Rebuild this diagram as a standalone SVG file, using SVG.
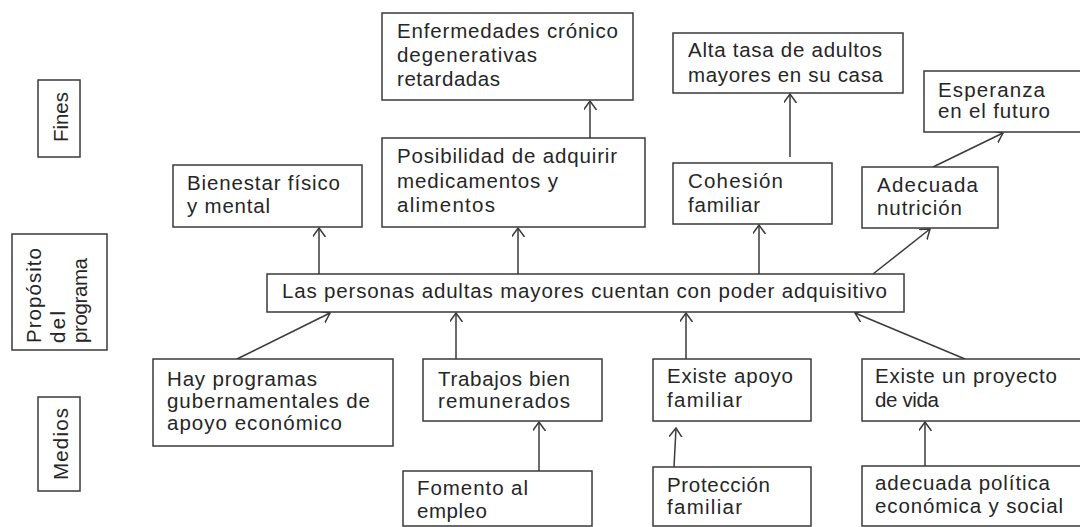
<svg xmlns="http://www.w3.org/2000/svg" width="1080" height="527" viewBox="0 0 1080 527">
<style>
.box{fill:#fff;stroke:#3a3a3a;stroke-width:1.5}
.t{font-family:"Liberation Sans",Arial,sans-serif;font-size:20.5px;fill:#262626}
.c{stroke:#3a3a3a;stroke-width:1.5;fill:none;marker-end:url(#ah)}
</style>
<defs>
<marker id="ah" markerUnits="userSpaceOnUse" markerWidth="12" markerHeight="14" refX="9" refY="6.5" orient="auto">
<path d="M0,0 L9,6.5 L0,13" fill="none" stroke="#3a3a3a" stroke-width="1.5"/>
</marker>
</defs>
<rect width="1080" height="527" fill="#fff"/>

<g id="lbl-fines">
<rect class="box" x="38" y="80" width="42" height="77"/>
<text class="t" transform="translate(68,142) rotate(-90)" textLength="50" lengthAdjust="spacing">Fines</text>
</g>
<g id="lbl-proposito">
<rect class="box" x="12" y="234" width="95" height="116"/>
<text class="t" transform="translate(41,343) rotate(-90)" textLength="95" lengthAdjust="spacing">Propósito</text>
<text class="t" transform="translate(65,343) rotate(-90)" textLength="32" lengthAdjust="spacing">del</text>
<text class="t" transform="translate(87,343) rotate(-90)" textLength="85" lengthAdjust="spacing">programa</text>
</g>
<g id="lbl-medios">
<rect class="box" x="38" y="397" width="42" height="94"/>
<text class="t" transform="translate(68,480) rotate(-90)" textLength="72" lengthAdjust="spacing">Medios</text>
</g>

<g id="connectors">
<line class="c" x1="319" y1="274" x2="319" y2="228"/>
<line class="c" x1="518" y1="274" x2="518" y2="228"/>
<line class="c" x1="759" y1="274" x2="759" y2="225"/>
<line class="c" x1="873" y1="274" x2="930" y2="229"/>
<line class="c" x1="590" y1="138" x2="590" y2="101"/>
<line class="c" x1="790" y1="157" x2="790" y2="94"/>
<line class="c" x1="933" y1="167" x2="1003" y2="133"/>
<line class="c" x1="237" y1="359" x2="330" y2="313"/>
<line class="c" x1="456" y1="359" x2="456" y2="313"/>
<line class="c" x1="686" y1="359" x2="686" y2="313"/>
<line class="c" x1="965" y1="359" x2="855" y2="313"/>
<line class="c" x1="539" y1="471" x2="539" y2="422"/>
<line class="c" x1="674" y1="467" x2="676" y2="428"/>
<line class="c" x1="925" y1="466" x2="925" y2="422"/>
</g>

<g id="n-enfermedades">
<rect class="box" x="382" y="13" width="251" height="87"/>
<text class="t" x="397" y="38" textLength="221" lengthAdjust="spacing">Enfermedades crónico</text>
<text class="t" x="397" y="62" textLength="140" lengthAdjust="spacing">degenerativas</text>
<text class="t" x="397" y="86" textLength="103" lengthAdjust="spacing">retardadas</text>
</g>
<g id="n-posibilidad">
<rect class="box" x="382" y="138" width="263" height="89"/>
<text class="t" x="397" y="163" textLength="220" lengthAdjust="spacing">Posibilidad de adquirir</text>
<text class="t" x="397" y="188" textLength="161" lengthAdjust="spacing">medicamentos y</text>
<text class="t" x="397" y="212" textLength="98" lengthAdjust="spacing">alimentos</text>
</g>
<g id="n-altatasa">
<rect class="box" x="673" y="33" width="230" height="60"/>
<text class="t" x="688" y="57" textLength="194" lengthAdjust="spacing">Alta tasa de adultos</text>
<text class="t" x="688" y="82" textLength="195" lengthAdjust="spacing">mayores en su casa</text>
</g>
<g id="n-esperanza">
<rect class="box" x="924" y="71" width="170" height="61"/>
<text class="t" x="938" y="97" textLength="107" lengthAdjust="spacing">Esperanza</text>
<text class="t" x="938" y="118" textLength="112" lengthAdjust="spacing">en el futuro</text>
</g>
<g id="n-bienestar">
<rect class="box" x="173" y="165" width="189" height="62"/>
<text class="t" x="187" y="190" textLength="153" lengthAdjust="spacing">Bienestar físico</text>
<text class="t" x="187" y="213" textLength="83" lengthAdjust="spacing">y mental</text>
</g>
<g id="n-cohesion">
<rect class="box" x="673" y="163" width="159" height="61"/>
<text class="t" x="688" y="188" textLength="95" lengthAdjust="spacing">Cohesión</text>
<text class="t" x="688" y="212" textLength="72" lengthAdjust="spacing">familiar</text>
</g>
<g id="n-nutricion">
<rect class="box" x="862" y="167" width="136" height="61"/>
<text class="t" x="877" y="192" textLength="101" lengthAdjust="spacing">Adecuada</text>
<text class="t" x="877" y="215" textLength="85" lengthAdjust="spacing">nutrición</text>
</g>
<g id="n-proposito">
<rect class="box" x="267" y="274" width="637" height="38"/>
<text class="t" x="282" y="298" textLength="605" lengthAdjust="spacing">Las personas adultas mayores cuentan con poder adquisitivo</text>
</g>
<g id="n-programas">
<rect class="box" x="153" y="359" width="240" height="87"/>
<text class="t" x="167" y="386" textLength="150" lengthAdjust="spacing">Hay programas</text>
<text class="t" x="167" y="408" textLength="203" lengthAdjust="spacing">gubernamentales de</text>
<text class="t" x="167" y="430" textLength="175" lengthAdjust="spacing">apoyo económico</text>
</g>
<g id="n-trabajos">
<rect class="box" x="423" y="359" width="179" height="62"/>
<text class="t" x="438" y="386" textLength="132" lengthAdjust="spacing">Trabajos bien</text>
<text class="t" x="438" y="408" textLength="132" lengthAdjust="spacing">remunerados</text>
</g>
<g id="n-apoyo">
<rect class="box" x="653" y="359" width="158" height="62"/>
<text class="t" x="667" y="383" textLength="126" lengthAdjust="spacing">Existe apoyo</text>
<text class="t" x="667" y="407" textLength="75" lengthAdjust="spacing">familiar</text>
</g>
<g id="n-proyecto">
<rect class="box" x="862" y="359" width="230" height="62"/>
<text class="t" x="875" y="383" textLength="182" lengthAdjust="spacing">Existe un proyecto</text>
<text class="t" x="875" y="407" textLength="64" lengthAdjust="spacing">de vida</text>
</g>
<g id="n-fomento">
<rect class="box" x="403" y="471" width="189" height="55"/>
<text class="t" x="417" y="495" textLength="111" lengthAdjust="spacing">Fomento al</text>
<text class="t" x="417" y="518" textLength="70" lengthAdjust="spacing">empleo</text>
</g>
<g id="n-proteccion">
<rect class="box" x="653" y="467" width="158" height="59"/>
<text class="t" x="667" y="492" textLength="103" lengthAdjust="spacing">Protección</text>
<text class="t" x="667" y="514" textLength="75" lengthAdjust="spacing">familiar</text>
</g>
<g id="n-politica">
<rect class="box" x="862" y="466" width="230" height="60"/>
<text class="t" x="875" y="490" textLength="175" lengthAdjust="spacing">adecuada política</text>
<text class="t" x="875" y="513" textLength="188" lengthAdjust="spacing">económica y social</text>
</g>
</svg>
